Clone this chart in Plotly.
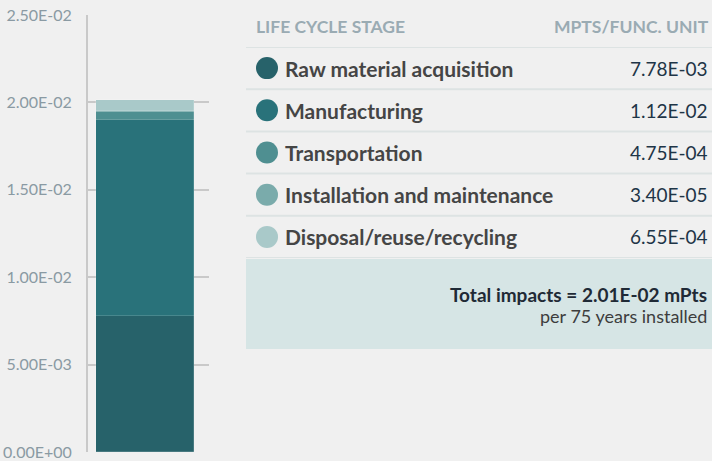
import plotly.graph_objects as go

stages = ["Raw material acquisition", "Manufacturing", "Transportation",
          "Installation and maintenance", "Disposal/reuse/recycling"]
values = [7.78e-03, 1.12e-02, 4.75e-04, 3.40e-05, 6.55e-04]
value_labels = ["7.78E-03", "1.12E-02", "4.75E-04", "3.40E-05", "6.55E-04"]
colors = ["#27626a", "#29727a", "#4f8f91", "#7aabab", "#a9c9c9"]
y_tickvals = [0, 0.005, 0.01, 0.015, 0.02, 0.025]
y_ticktext = ["0.00E+00", "5.00E-03", "1.00E-02", "1.50E-02", "2.00E-02", "2.50E-02"]
header_left = "LIFE CYCLE STAGE"
header_right = "MPTS/FUNC. UNIT"
total_text = "<b>Total impacts = 2.01E-02 mPts</b>"
sub_text = "per 75 years installed"

W, H = 712, 461
FONT = "Lato"

def px(x):
    return x / W

def py(y):
    return 1 - y / H

fig = go.Figure()
for name, v, c in zip(stages, values, colors):
    fig.add_trace(go.Bar(x=["A"], y=[v], name=name, marker_color=c,
                         marker_line=dict(color="rgba(255,255,255,0.25)", width=0.6),
                         width=0.81, showlegend=False, xaxis="x", yaxis="y"))

rows = list(range(len(stages)))
fig.add_trace(go.Scatter(x=[21] * len(stages), y=rows, mode="markers",
                         marker=dict(size=22, color=colors, line=dict(width=0)),
                         showlegend=False, xaxis="x2", yaxis="y2", hoverinfo="skip"))

annotations = []
for i, (name, lab) in enumerate(zip(stages, value_labels)):
    annotations.append(dict(x=37, y=i, xref="x2", yref="y2", text="<b>" + name + "</b>",
                            showarrow=False, xanchor="left", yanchor="middle",
                            font=dict(family=FONT, size=21, color="#454545")))
    annotations.append(dict(x=464, y=i, xref="x2", yref="y2", text=lab,
                            showarrow=False, xanchor="right", yanchor="middle",
                            font=dict(family=FONT, size=19, color="#1e3547")))
annotations.append(dict(x=px(254), y=py(27), xref="paper", yref="paper",
                        text="<b>" + header_left + "</b>", showarrow=False,
                        xanchor="left", yanchor="middle",
                        font=dict(family=FONT, size=17.5, color="#9aabb3")))
annotations.append(dict(x=px(711), y=py(27), xref="paper", yref="paper",
                        text="<b>" + header_right + "</b>", showarrow=False,
                        xanchor="right", yanchor="middle",
                        font=dict(family=FONT, size=17.5, color="#9aabb3")))
annotations.append(dict(x=px(709), y=py(294), xref="paper", yref="paper",
                        text=total_text, showarrow=False, xanchor="right", yanchor="middle",
                        font=dict(family=FONT, size=19, color="#1f2a36")))
annotations.append(dict(x=px(709), y=py(316), xref="paper", yref="paper",
                        text=sub_text, showarrow=False, xanchor="right", yanchor="middle",
                        font=dict(family=FONT, size=18, color="#3d3d3d")))

shapes = [dict(type="rect", xref="paper", yref="paper", x0=px(246), x1=1,
               y0=py(349), y1=py(259), fillcolor="#d6e5e5", line=dict(width=0), layer="below")]
for k in range(len(stages) + 1):
    shapes.append(dict(type="line", xref="paper", yref="y2", x0=px(246), x1=1,
                       y0=k - 0.5, y1=k - 0.5, line=dict(color="#dde3e3", width=2)))

fig.update_layout(
    width=W, height=H, barmode="stack",
    paper_bgcolor="#f0f0f0", plot_bgcolor="#f0f0f0",
    margin=dict(l=0, r=0, t=0, b=0),
    xaxis=dict(domain=[px(88), px(209)], range=[-0.47, 0.53], showticklabels=False,
               showgrid=False, zeroline=False, fixedrange=True),
    yaxis=dict(domain=[py(452), py(15)], range=[0, 0.025], tickvals=y_tickvals,
               ticktext=y_ticktext, showgrid=True, gridcolor="#c9c9c9", gridwidth=1.5,
               showline=True, linecolor="#c9c9c9", linewidth=2, zeroline=False,
               automargin=False, ticks="", ticklabelstandoff=11,
               tickfont=dict(family=FONT, size=16, color="#8a9aa3")),
    xaxis2=dict(domain=[px(246), 1], range=[0, 466], visible=False, fixedrange=True),
    yaxis2=dict(domain=[py(258), py(47)], range=[4.5, -0.5], visible=False, fixedrange=True),
    annotations=annotations, shapes=shapes, bargap=0,
)

fig.write_html("out.html", config={"displayModeBar": False},
               post_script="document.body.style.margin='0';document.body.style.overflow='hidden';")
